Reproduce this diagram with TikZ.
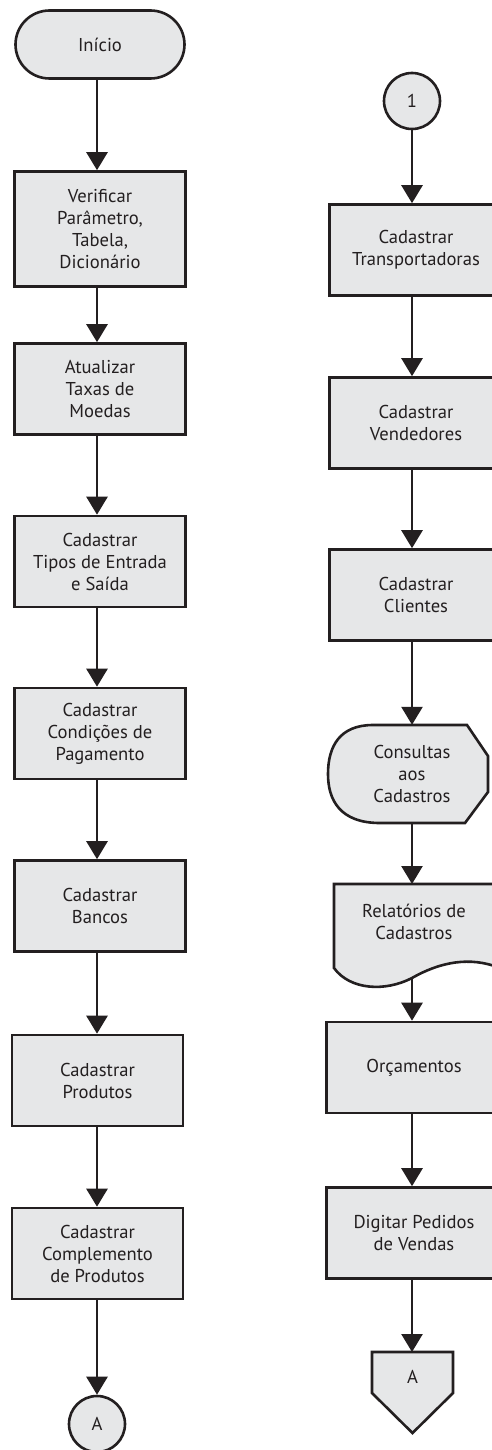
\documentclass[tikz,border=0pt]{standalone}
\usepackage{fontspec}
\setmainfont{PT Sans}
\usetikzlibrary{arrows.meta}
\definecolor{ink}{HTML}{231F20}
\definecolor{boxfill}{HTML}{E6E7E8}
\tikzset{
  lbl/.style={font=\fontsize{18.6}{22}\selectfont, text=ink, align=center},
  proc/.style={lbl, draw=ink, fill=boxfill, line width=2.6pt, rectangle, inner sep=0pt,
               minimum width=171pt, minimum height=91pt},
  conn/.style={lbl, draw=ink, fill=boxfill, line width=2.6pt, circle, inner sep=0pt,
               minimum size=56pt},
  shp/.style={draw=ink, fill=boxfill, line width=2.6pt, line join=miter},
  arr/.style={draw=ink, line width=2.6pt, -{Triangle[width=21pt,length=18pt]}},
}
\begin{document}
\begin{tikzpicture}[x=1pt,y=-1pt]
\clip (0,0) rectangle (492,1450);
\fill[white] (0,0) rectangle (492,1450);

% ---------- left column ----------
\node[proc, rounded corners=34pt, minimum height=68pt, minimum width=169pt] (ini) at (100,44.5) {Início};
\node[proc, minimum height=115pt] (ver) at (100,229) {Verificar\\Parâmetro,\\Tabela,\\Dicionário};
\node[proc] (atu) at (100,389) {Atualizar\\Taxas de\\Moedas};
\node[proc] (tip) at (100,561.5) {Cadastrar\\Tipos de Entrada\\e Saída};
\node[proc] (cond) at (100,733.5) {Cadastrar\\Condições de\\Pagamento};
\node[proc] (ban) at (100,906) {Cadastrar\\Bancos};
\node[proc] (prod) at (97.5,1080.5) {Cadastrar\\Produtos};
\node[proc] (comp) at (97.5,1253.5) {Cadastrar\\Complemento\\de Produtos};
\node[conn] (ca) at (97,1424) {A};

\draw[arr] (97,79) coordinate (s0) -- (s0 |- ver.north);
\draw[arr] (97,287) coordinate (s1) -- (s1 |- atu.north);
\draw[arr] (97,435) coordinate (s2) -- (s2 |- tip.north);
\draw[arr] (97,607) coordinate (s3) -- (s3 |- cond.north);
\draw[arr] (97,779) coordinate (s4) -- (s4 |- ban.north);
\draw[arr] (97,952) coordinate (s5) -- (s5 |- prod.north);
\draw[arr] (97,1127) coordinate (s6) -- (s6 |- comp.north);
\draw[arr] (97,1300) coordinate (s7) -- (ca.north);

% ---------- right column ----------
\node[conn] (c1) at (412,101) {1};
\node[proc, minimum width=173pt] (tra) at (416,250) {Cadastrar\\Transportadoras};
\node[proc, minimum width=173pt] (ven) at (416,423) {Cadastrar\\Vendedores};
\node[proc, minimum width=173pt] (cli) at (416,595) {Cadastrar\\Clientes};

% display shape (Consultas)
\draw[shp] (373,725) -- (467,725) -- (488,756) -- (488,792) -- (465,823) -- (380,823)
  .. controls (340,823) and (328,800) .. (328,774)
  .. controls (328,746) and (340,725) .. (373,725) -- cycle;
\node[lbl, minimum width=160pt, minimum height=98pt, inner sep=0pt] (cons) at (412,774) {Consultas\\aos\\Cadastros};

% document shape (Relatorios)
\draw[shp] (334,884) -- (334,968)
  .. controls (350,990) and (385,992) .. (412,978)
  .. controls (440,962) and (470,956) .. (500,968) -- (500,884) -- cycle;
\node[lbl, inner sep=0pt] (rel) at (414,922) {Relatórios de\\Cadastros};
\coordinate (relb) at (412,978);

\node[proc, minimum width=175pt] (orc) at (414,1067.5) {Orçamentos};
\node[proc, minimum width=175pt] (dig) at (414,1233) {Digitar Pedidos\\de Vendas};

% off-page connector
\draw[shp] (372,1352) -- (453,1352) -- (453,1393) -- (412.5,1433) -- (372,1393) -- cycle;
\node[lbl, minimum width=81pt, minimum height=1pt, inner sep=0pt, anchor=north] (offa) at (412.5,1352) {};
\node[lbl] at (412.5,1377) {A};

\draw[arr] (c1.south) -- (c1.south |- tra.north);
\draw[arr] (412,296) coordinate (r1) -- (r1 |- ven.north);
\draw[arr] (412,469) coordinate (r2) -- (r2 |- cli.north);
\draw[arr] (412,641) coordinate (r3) -- (r3 |- cons.north);
\draw[arr] (412,823) coordinate (r4) -- (412,884) coordinate (relt);
\draw[arr] (relb) -- (relb |- orc.north);
\draw[arr] (412,1114) coordinate (r6) -- (r6 |- dig.north);
\draw[arr] (412,1279) coordinate (r7) -- (r7 |- offa.north);
\end{tikzpicture}
\end{document}
